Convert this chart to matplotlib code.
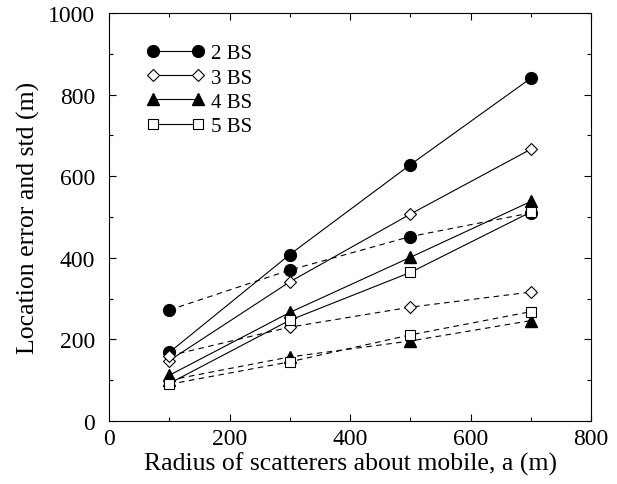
import numpy as np
import matplotlib
matplotlib.use('Agg')
import matplotlib.pyplot as plt
from matplotlib.ticker import MultipleLocator

plt.rcParams['font.family'] = ['Liberation Serif', 'DejaVu Serif']
plt.rcParams['font.size'] = 17

radius = [100, 300, 500, 700]

# mean location error (solid) and std (dashed) per number of base stations
err_2bs = [168, 408, 628, 840]
std_2bs = [272, 370, 452, 510]
err_3bs = [148, 341, 507, 666]
std_3bs = [160, 230, 279, 316]
err_4bs = [112, 266, 401, 538]
std_4bs = [100, 157, 196, 246]
err_5bs = [92, 247, 364, 512]
std_5bs = [90, 145, 211, 268]

labels = ['2 BS', '3 BS', '4 BS', '5 BS']

fig = plt.figure(figsize=(6.17, 4.85), dpi=100)
ax = fig.add_axes([109/617, 63/485, 482/617, 408/485])

styles = [
    dict(marker='o', mfc='black', mec='black', ms=8.5),
    dict(marker='D', mfc='white', mec='black', ms=6.5, mew=0.8),
    dict(marker='^', mfc='black', mec='black', ms=8.5),
    dict(marker='s', mfc='white', mec='black', ms=7, mew=0.8),
]
errs = [err_2bs, err_3bs, err_4bs, err_5bs]
stds = [std_2bs, std_3bs, std_4bs, std_5bs]

handles = []
for e, s, st, lab in zip(errs, stds, styles, labels):
    h, = ax.plot(radius, e, color='black', lw=0.8, label=lab, **st)
    ax.plot(radius, s, color='black', lw=0.8, ls=(0, (5, 4)), **st)
    handles.append(h)

ax.set_xlim(0, 800)
ax.set_ylim(0, 1000)
ax.xaxis.set_major_locator(MultipleLocator(200))
ax.xaxis.set_minor_locator(MultipleLocator(100))
ax.yaxis.set_major_locator(MultipleLocator(200))
ax.yaxis.set_minor_locator(MultipleLocator(100))
ax.tick_params(which='both', direction='in', top=True, right=True, width=0.8)
ax.tick_params(which='major', length=5)
ax.tick_params(which='minor', length=3)
ax.tick_params(axis='x', which='major', pad=5)
ax.tick_params(axis='y', which='major', pad=10)
for sp in ax.spines.values():
    sp.set_linewidth(0.8)

ax.set_xlabel('Radius of scatterers about mobile, a (m)', fontsize=18.5, labelpad=2)
ax.set_ylabel('Location error and std (m)', fontsize=18.5, labelpad=6)

ax.legend(handles=handles, loc='upper left', frameon=False, numpoints=2,
          handlelength=2.8, handletextpad=0.3, labelspacing=0.22,
          fontsize=15, bbox_to_anchor=(0.06, 0.945), borderaxespad=0)

fig.savefig('out.png', dpi=100)
